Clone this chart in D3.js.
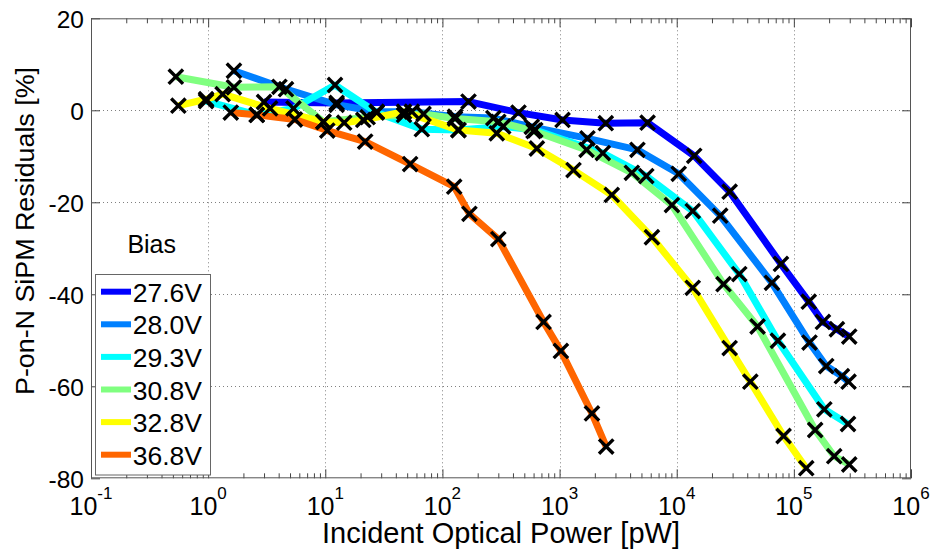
<!DOCTYPE html>
<html>
<head>
<meta charset="utf-8">
<script src="https://cdn.jsdelivr.net/npm/d3@7"></script>
<style>
  html, body { margin: 0; padding: 0; background: #fff; }
  svg { display: block; font-family: "Liberation Sans", Arial, Helvetica, sans-serif; }
</style>
</head>
<body>
<svg id="chart" width="934" height="552"></svg>
<script>
// ---------------- data ----------------
const biasLabels = ["27.6V", "28.0V", "29.3V", "30.8V", "32.8V", "36.8V"];
const biasColors = ["#0000ff", "#0080ff", "#00ffff", "#80ff80", "#ffff00", "#ff6600"];

const power27_6 = [3.0, 12.5, 167, 446, 1060, 2480, 5640, 14100, 28300, 77600, 134000, 177000, 233000, 297000];
const resid27_6 = [1.8, 1.6, 1.9, -0.5, -2.1, -2.8, -2.7, -9.9, -17.7, -33.4, -41.6, -46.0, -47.6, -49.2];

const power28_0 = [1.66, 4.62, 12.5, 27.5, 54.8, 128, 272, 579, 1730, 4620, 10400, 23500, 65000, 136000, 189000, 257000, 293000];
const resid28_0 = [8.6, 4.6, 1.2, -0.3, -0.3, -1.4, -1.7, -3.6, -6.1, -8.6, -13.8, -22.9, -37.5, -50.5, -55.6, -57.8, -59.0];

const power29_3 = [0.96, 2.6, 5.35, 12.1, 27.5, 66.7, 137, 330, 620, 2340, 5500, 13700, 34200, 73100, 182000, 290000];
const resid29_3 = [2.0, -1.0, 0.4, 5.5, -0.5, -4.1, -4.3, -3.5, -4.3, -9.3, -14.3, -21.9, -35.6, -50.1, -65.0, -68.2];

const power30_8 = [0.53, 1.66, 4.06, 9.64, 23, 47, 69, 128, 300, 600, 1700, 4140, 9100, 25100, 49000, 152000, 221000, 297000];
const resid30_8 = [7.3, 5.0, 5.1, -2.5, -1.5, -1.0, -0.8, -1.8, -2.5, -4.5, -8.6, -13.6, -20.6, -37.8, -47.0, -69.5, -75.2, -77.0];

const power32_8 = [0.557, 0.96, 1.33, 3.38, 9.64, 14.5, 21.1, 47, 137, 291, 640, 1315, 2790, 6140, 13700, 28300, 42500, 81700, 127600];
const resid32_8 = [1.0, 2.4, 3.5, 0.4, -2.5, -2.7, -2.1, -0.3, -4.3, -5.0, -8.3, -13.0, -18.4, -27.6, -38.6, -51.7, -59.0, -70.8, -77.8];

const power36_8 = [1.56, 2.6, 5.5, 10.4, 21.9, 53, 126, 170, 300, 730, 1026, 1890, 2500];
const resid36_8 = [-0.5, -1.0, -2.0, -4.4, -6.8, -11.7, -16.6, -22.5, -28.0, -46.0, -52.3, -65.9, -73.1];

const xMajorTicks = [0.1, 1, 10, 100, 1000, 10000, 100000, 1000000];
const xExponents = ["-1", "0", "1", "2", "3", "4", "5", "6"];
const yTicks = [-80, -60, -40, -20, 0, 20];

const xTitle = "Incident Optical Power [pW]";
const yTitle = "P-on-N SiPM Residuals [%]";
const legendTitle = "Bias";

// ---------------- layout ----------------
const L = 91, R = 911, T = 18.3, B = 478.3;
const svg = d3.select("#chart");
svg.append("rect").attr("width", 934).attr("height", 552).attr("fill", "#fff");

const x = d3.scaleLog().domain([0.1, 1e6]).range([L, R]);
const y = d3.scaleLinear().domain([-80, 20]).range([B, T]);

const series = [
  [power27_6, resid27_6], [power28_0, resid28_0], [power29_3, resid29_3],
  [power30_8, resid30_8], [power32_8, resid32_8], [power36_8, resid36_8]
].map((s, i) => ({
  label: biasLabels[i], color: biasColors[i],
  pts: s[0].map((p, j) => ({ p, r: s[1][j] }))
}));

// minor ticks
const xMinor = [];
for (let e = -1; e < 6; e++) for (let m = 2; m <= 9; m++) xMinor.push(m * Math.pow(10, e));

// grid (dotted)
const grid = svg.append("g").attr("stroke", "#808080").attr("stroke-width", 1).attr("stroke-dasharray", "1,3");
xMajorTicks.slice(1, -1).forEach(v => {
  grid.append("line").attr("x1", Math.round(x(v)) + 0.5).attr("x2", Math.round(x(v)) + 0.5).attr("y1", T).attr("y2", B);
});
yTicks.slice(1, -1).forEach(v => {
  grid.append("line").attr("y1", Math.round(y(v)) + 0.5).attr("y2", Math.round(y(v)) + 0.5).attr("x1", L).attr("x2", R);
});

// axes via d3 axis generators
function styleAxis(g) {
  g.select(".domain").remove();
  g.selectAll(".tick line").attr("stroke", "#444").attr("stroke-width", 1);
}
svg.append("g").attr("transform", `translate(0,${B})`)
  .call(d3.axisBottom(x).tickValues(xMajorTicks).tickSize(-9).tickSizeOuter(0).tickFormat(""))
  .call(styleAxis);
svg.append("g").attr("transform", `translate(0,${B})`)
  .call(d3.axisBottom(x).tickValues(xMinor).tickSize(-5).tickSizeOuter(0).tickFormat(""))
  .call(styleAxis);
svg.append("g").attr("transform", `translate(0,${T})`)
  .call(d3.axisTop(x).tickValues(xMajorTicks).tickSize(-9).tickSizeOuter(0).tickFormat(""))
  .call(styleAxis);
svg.append("g").attr("transform", `translate(0,${T})`)
  .call(d3.axisTop(x).tickValues(xMinor).tickSize(-5).tickSizeOuter(0).tickFormat(""))
  .call(styleAxis);
const yAxisG = svg.append("g").attr("transform", `translate(${L},0)`)
  .call(d3.axisLeft(y).tickValues(yTicks).tickSize(-9).tickSizeOuter(0).tickPadding(7).tickFormat(d => String(d)))
  .call(styleAxis);
yAxisG.selectAll(".tick text").attr("font-size", 24.5).attr("fill", "#000")
  .attr("font-family", "'Liberation Sans', Arial, sans-serif").attr("dy", "0.36em");
svg.append("g").attr("transform", `translate(${R},0)`)
  .call(d3.axisRight(y).tickValues(yTicks).tickSize(-9).tickSizeOuter(0).tickFormat(""))
  .call(styleAxis);

// box
svg.append("rect").attr("x", L + 0.5).attr("y", T + 0.5).attr("width", R - L - 1).attr("height", B - T - 1)
  .attr("fill", "none").attr("stroke", "#555").attr("stroke-width", 1);

// x tick labels with superscripts
const xl = svg.append("g");
xMajorTicks.forEach((v, i) => {
  const t = xl.append("text").attr("x", x(v)).attr("y", 514.7).attr("text-anchor", "middle")
    .attr("font-size", 25).attr("fill", "#000");
  t.append("tspan").text("10");
  t.append("tspan").attr("dy", -16).attr("font-size", 17).text(xExponents[i]);
});

// axis titles
svg.append("text").attr("x", 501).attr("y", 543.3).attr("text-anchor", "middle")
  .attr("font-size", 29).attr("fill", "#000")
  .attr("textLength", 358).attr("lengthAdjust", "spacingAndGlyphs").text(xTitle);
svg.append("text").attr("transform", "translate(33.5,231) rotate(-90)").attr("text-anchor", "middle")
  .attr("font-size", 26.5).attr("fill", "#000")
  .attr("textLength", 328).attr("lengthAdjust", "spacingAndGlyphs").text(yTitle);

// lines
svg.append("clipPath").attr("id", "plotclip").append("rect")
  .attr("x", L).attr("y", T).attr("width", R - L).attr("height", B - T);
const plot = svg.append("g").attr("clip-path", "url(#plotclip)");
const line = d3.line().x(d => x(d.p)).y(d => y(d.r));
series.forEach(s => {
  plot.append("path").attr("d", line(s.pts)).attr("fill", "none")
    .attr("stroke", s.color).attr("stroke-width", 7).attr("stroke-linejoin", "round").attr("stroke-linecap", "butt");
});
// markers
const h = 7.2;
series.forEach(s => {
  plot.append("g").selectAll("path").data(s.pts).join("path")
    .attr("d", d => {
      const cx = x(d.p), cy = y(d.r);
      return `M${cx - h},${cy - h}L${cx + h},${cy + h}M${cx - h},${cy + h}L${cx + h},${cy - h}`;
    })
    .attr("stroke", "#000").attr("stroke-width", 3.4).attr("fill", "none");
});

// legend
svg.append("text").attr("x", 151.7).attr("y", 253.3).attr("text-anchor", "middle")
  .attr("font-size", 25).attr("fill", "#000").text(legendTitle);
const lg = svg.append("g");
lg.append("rect").attr("x", 95.5).attr("y", 274.5).attr("width", 115).attr("height", 200.5)
  .attr("fill", "#fff").attr("stroke", "#666").attr("stroke-width", 1);
series.forEach((s, i) => {
  const yy = 291.7 + i * 32.6;
  lg.append("line").attr("x1", 101).attr("x2", 131).attr("y1", yy).attr("y2", yy)
    .attr("stroke", s.color).attr("stroke-width", 6);
  lg.append("text").attr("x", 132.7).attr("y", yy + 10).attr("font-size", 26.5).attr("fill", "#000").text(s.label);
});
</script>
</body>
</html>
